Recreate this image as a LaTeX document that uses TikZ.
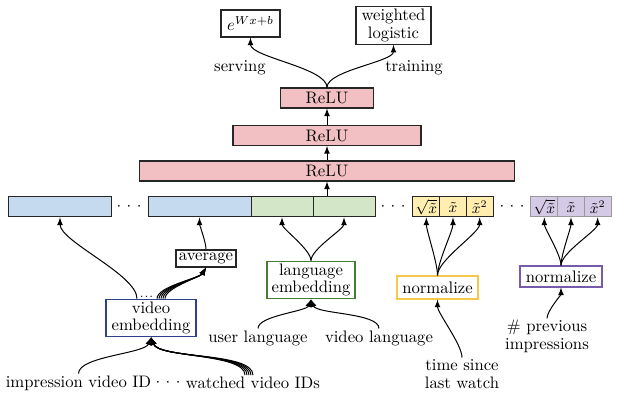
\documentclass[tikz,border=0pt]{standalone}
\usetikzlibrary{calc}
\usepackage{xcolor}

\definecolor{relurot}{RGB}{242,192,194}
\definecolor{blau}{RGB}{197,218,238}
\definecolor{gruen}{RGB}{211,230,199}
\definecolor{gelb}{RGB}{255,238,175}
\definecolor{lila}{RGB}{212,202,230}
\definecolor{vblau}{RGB}{45,65,140}
\definecolor{lgruen}{RGB}{70,125,50}
\definecolor{ngelb}{RGB}{245,200,75}
\definecolor{nlila}{RGB}{120,90,170}

\newcommand\punkte{${\cdot}\hspace{3.3pt}{\cdot}\hspace{3.3pt}{\cdot}$}

\tikzset{
  schicht/.style={draw=black!85, fill=relurot, line width=0.7pt, minimum height=12pt, inner sep=0pt},
  feld/.style={draw=black!85, line width=0.6pt, minimum height=12pt, inner sep=0pt, font=\small},
  kasten/.style={draw=black!85, line width=0.7pt, align=center, inner sep=1.5pt, font=\fontsize{10}{10.5}\selectfont},
  txt/.style={align=center, inner sep=1pt, font=\fontsize{10}{10.5}\selectfont},
  pfeil/.style={->, line width=0.6pt, looseness=0.55}
}

\begin{document}
\begin{tikzpicture}[x=0.6pt,y=-0.6pt,>=latex]
\useasboundingbox (0,0) rectangle (619,402);

%Schichten
\node[schicht, minimum width=225pt] (relu1) at (327,171) {ReLU};
\node[schicht, minimum width=112.8pt] (relu2) at (327,135.5) {ReLU};
\node[schicht, minimum width=55.8pt] (relu3) at (327,98) {ReLU};
\draw[pfeil] (relu1) -- (relu2);
\draw[pfeil] (relu2) -- (relu3);

%Ausgaben
\node[kasten, minimum width=35.4pt, minimum height=16.2pt] (expo) at (250.5,23.5) {$e^{Wx+b}$};
\node[kasten, minimum width=45pt, minimum height=22.2pt] (logist) at (393.5,25.5) {weighted\\logistic};
\node[txt] (serv) at (240,68) {serving};
\node[txt] (train) at (414,68) {training};
\draw[pfeil] (relu3.north) to[out=90,in=-90] (expo.south);
\draw[pfeil] (relu3.north) to[out=90,in=-90] (logist.south);

%Merkmale
\node[feld, fill=blau, minimum width=62.4pt] (imp) at (60,207) {};
\node (pkt1) at (129,207) {\punkte};
\node[feld, fill=blau, minimum width=61.8pt] (vid) at (199.5,207) {};
\node[feld, fill=gruen, minimum width=37.2pt] (lang1) at (282,207) {};
\node[feld, fill=gruen, minimum width=37.2pt] (lang2) at (344,207) {};
\node (pkt2) at (393,207) {\punkte};
\foreach \t [count=\i] in {$\sqrt{\tilde{x}}$, $\tilde{x}$, $\tilde{x}^2$}
  \node[feld, fill=gelb, minimum width=16pt] (g\i) at ({426.33+26.67*(\i-1)},207) {\t};
\node (pkt3) at (512,207) {\punkte};
\foreach \t [count=\i] in {$\sqrt{\tilde{x}}$, $\tilde{x}$, $\tilde{x}^2$}
  \node[feld, draw=black!40, fill=lila, minimum width=16pt] (l\i) at ({544.33+26.67*(\i-1)},207) {\t};
\draw[pfeil] (relu1.south |- lang2.north) -- (relu1.south);

%Einbettungen
\node[kasten, minimum width=36pt, minimum height=10.2pt, inner sep=1pt] (avg) at (206,258.5) {average};
\node[kasten, draw=vblau, minimum width=54pt] (vemb) at (151,318) {video\\embedding};
\node[kasten, draw=lgruen, minimum width=52.8pt] (lemb) at (311,280) {language\\embedding};
\node[kasten, draw=ngelb, minimum width=48.6pt, minimum height=13.8pt] (norm1) at (437.5,287.5) {normalize};
\node[kasten, draw=nlila, minimum width=49.2pt, minimum height=12.6pt] (norm2) at (561,276.5) {normalize};
\node[inner sep=0pt, anchor=south] (vpkt) at (146.5,298) {\scriptsize.\hspace{0.6pt}.\hspace{0.6pt}.};

%Eingaben
\node[txt] (ulang) at (258,338) {user language};
\node[txt] (vlang) at (379,338) {video language};
\node[txt] (impid) at (78.5,383) {impression video ID};
\node (pkt4) at (168,383) {\punkte};
\node[txt] (watched) at (253,383) {watched video IDs};
\node[txt] (tsince) at (462,374) {time since\\last watch};
\node[txt] (previmp) at (547,336.5) {\# previous\\impressions};

%Verbindungen
\draw[pfeil] ($(vemb.north)+(-14,0)$) to[out=90,in=-90] (imp.south);
\foreach \i in {0,...,4}
  \draw[pfeil] ($(vemb.north)+(6+2*\i,0)$) to[out=90,in=-120] (avg.south);
\draw[pfeil] (avg.north) to[out=90,in=-90] (vid.south);
\draw[pfeil] (impid.north) to[out=90,in=-110] (vemb.south);
\foreach \i in {0,...,4}
  \draw[pfeil] ($(watched.north)+(-8+2*\i,0)$) to[out=90,in=-70] (vemb.south);
\draw[pfeil] (lemb.north) to[out=90,in=-90] (lang1.south);
\draw[pfeil] (lemb.north) to[out=90,in=-90] (lang2.south);
\draw[pfeil] (ulang.north) to[out=90,in=-110] (lemb.south);
\draw[pfeil] (vlang.north) to[out=90,in=-70] (lemb.south);
\foreach \i in {1,2,3}
  \draw[pfeil] (norm1.north) to[out=90,in=-90] (g\i.south);
\draw[pfeil] (tsince.north) to[out=90,in=-90] (norm1.south);
\foreach \i in {1,2,3}
  \draw[pfeil] (norm2.north) to[out=90,in=-90] (l\i.south);
\draw[pfeil] (previmp.north) to[out=90,in=-90] (norm2.south);

\end{tikzpicture}
\end{document}
